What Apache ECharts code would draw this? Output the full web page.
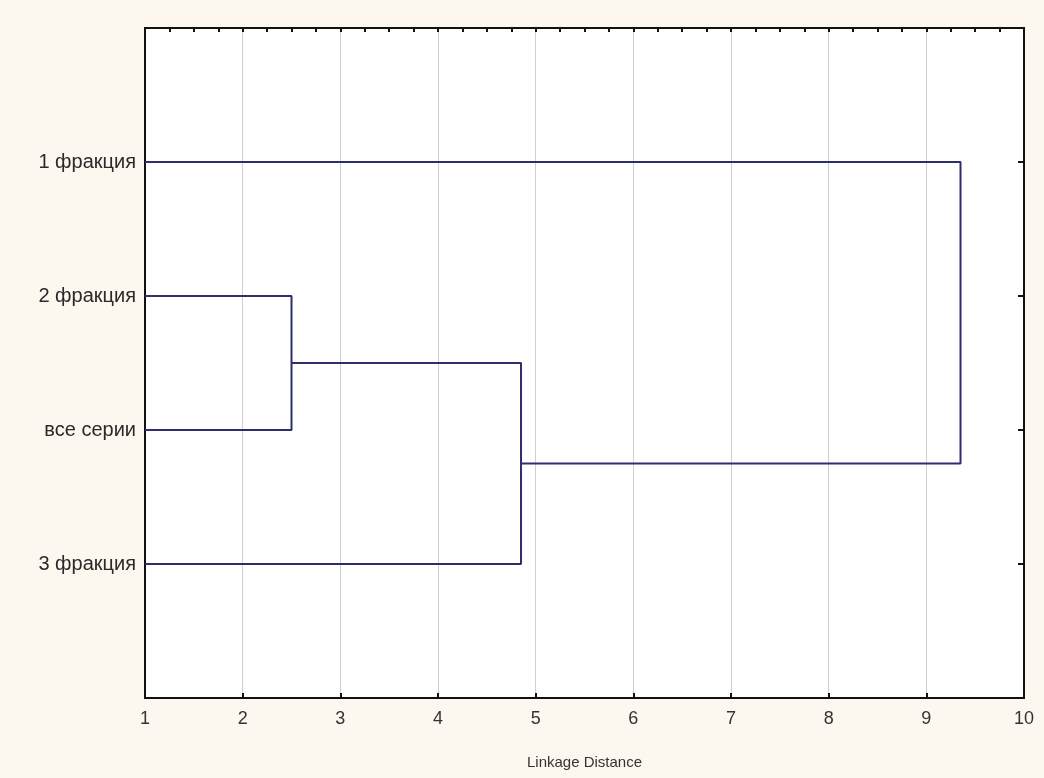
<!DOCTYPE html>
<html>
<head>
<meta charset="utf-8">
<script src="https://cdn.jsdelivr.net/npm/echarts@6/dist/echarts.min.js"></script>
<style>
  html, body { margin: 0; padding: 0; background: #fcf8ef; }
  #chart { width: 1044px; height: 778px; }
</style>
</head>
<body>
<div id="chart"></div>
<script>
// leaves (top to bottom) and their positions on the vertical axis
var leaves = ['1 фракция', '2 фракция', 'все серии', '3 фракция'];
var leafPos = [1, 2, 3, 4];
// merges: node ids (0..3 leaves, 4.. merged clusters), linkage distance
var mergeLeft = [1, 4, 0];
var mergeRight = [2, 3, 5];
var mergeDist = [2.5, 4.85, 9.35];
var xTicks = [1, 2, 3, 4, 5, 6, 7, 8, 9, 10];

var chart = echarts.init(document.getElementById('chart'));

// node coordinates
var nodeX = leaves.map(function () { return 1; });
var nodeY = leafPos.slice();
var series = [];
for (var i = 0; i < mergeDist.length; i++) {
  var a = mergeLeft[i], b = mergeRight[i], h = mergeDist[i];
  series.push({
    type: 'line',
    symbol: 'none',
    silent: true,
    lineStyle: { color: '#2e2e6c', width: 2 },
    data: [[nodeX[a], nodeY[a]], [h, nodeY[a]], [h, nodeY[b]], [nodeX[b], nodeY[b]]]
  });
  nodeX.push(h);
  nodeY.push((nodeY[a] + nodeY[b]) / 2);
}

var font = 'Arial, "Liberation Sans", sans-serif';

var option = {
  backgroundColor: '#fcf8ef',
  animation: false,
  grid: {
    left: 145, right: 20, top: 28, bottom: 80,
    show: true, backgroundColor: '#ffffff', borderColor: '#111', borderWidth: 2
  },
  xAxis: [{
    type: 'value', min: 1, max: 10, interval: 1, position: 'bottom',
    name: 'Linkage Distance', nameLocation: 'middle', nameGap: 57,
    nameTextStyle: { fontFamily: font, fontSize: 15, color: '#333' },
    axisLine: { show: true, onZero: false, lineStyle: { color: '#111', width: 2 } },
    axisTick: { show: true, inside: true, length: 5, lineStyle: { color: '#111', width: 2 } },
    axisLabel: {
      margin: 12, fontFamily: font, fontSize: 18, color: '#333',
      formatter: function (v) { return xTicks.indexOf(v) >= 0 ? String(v) : ''; }
    },
    splitLine: { show: true, lineStyle: { color: '#cfcfd6', width: 1 } }
  }, {
    type: 'value', min: 1, max: 10, interval: 0.25, position: 'top',
    axisLine: { show: true, onZero: false, lineStyle: { color: '#111', width: 2 } },
    axisTick: { show: true, inside: true, length: 4, lineStyle: { color: '#111', width: 2 } },
    axisLabel: { show: false },
    splitLine: { show: false }
  }],
  yAxis: [{
    type: 'value', min: 0, max: 5, interval: 1, inverse: true, position: 'left',
    axisLine: { show: true, onZero: false, lineStyle: { color: '#111', width: 2 } },
    axisTick: { show: false },
    axisLabel: {
      margin: 9, fontFamily: font, fontSize: 20, color: '#2a2a2a',
      formatter: function (v) {
        var k = leafPos.indexOf(v);
        return k >= 0 ? leaves[k] : '';
      }
    },
    splitLine: { show: false }
  }, {
    type: 'value', min: 0, max: 5, interval: 1, inverse: true, position: 'right',
    axisLine: { show: true, onZero: false, lineStyle: { color: '#111', width: 2 } },
    axisTick: { show: true, inside: true, length: 6, lineStyle: { color: '#111', width: 2 } },
    axisLabel: { show: false },
    splitLine: { show: false }
  }],
  series: series
};

chart.setOption(option);
</script>
</body>
</html>
